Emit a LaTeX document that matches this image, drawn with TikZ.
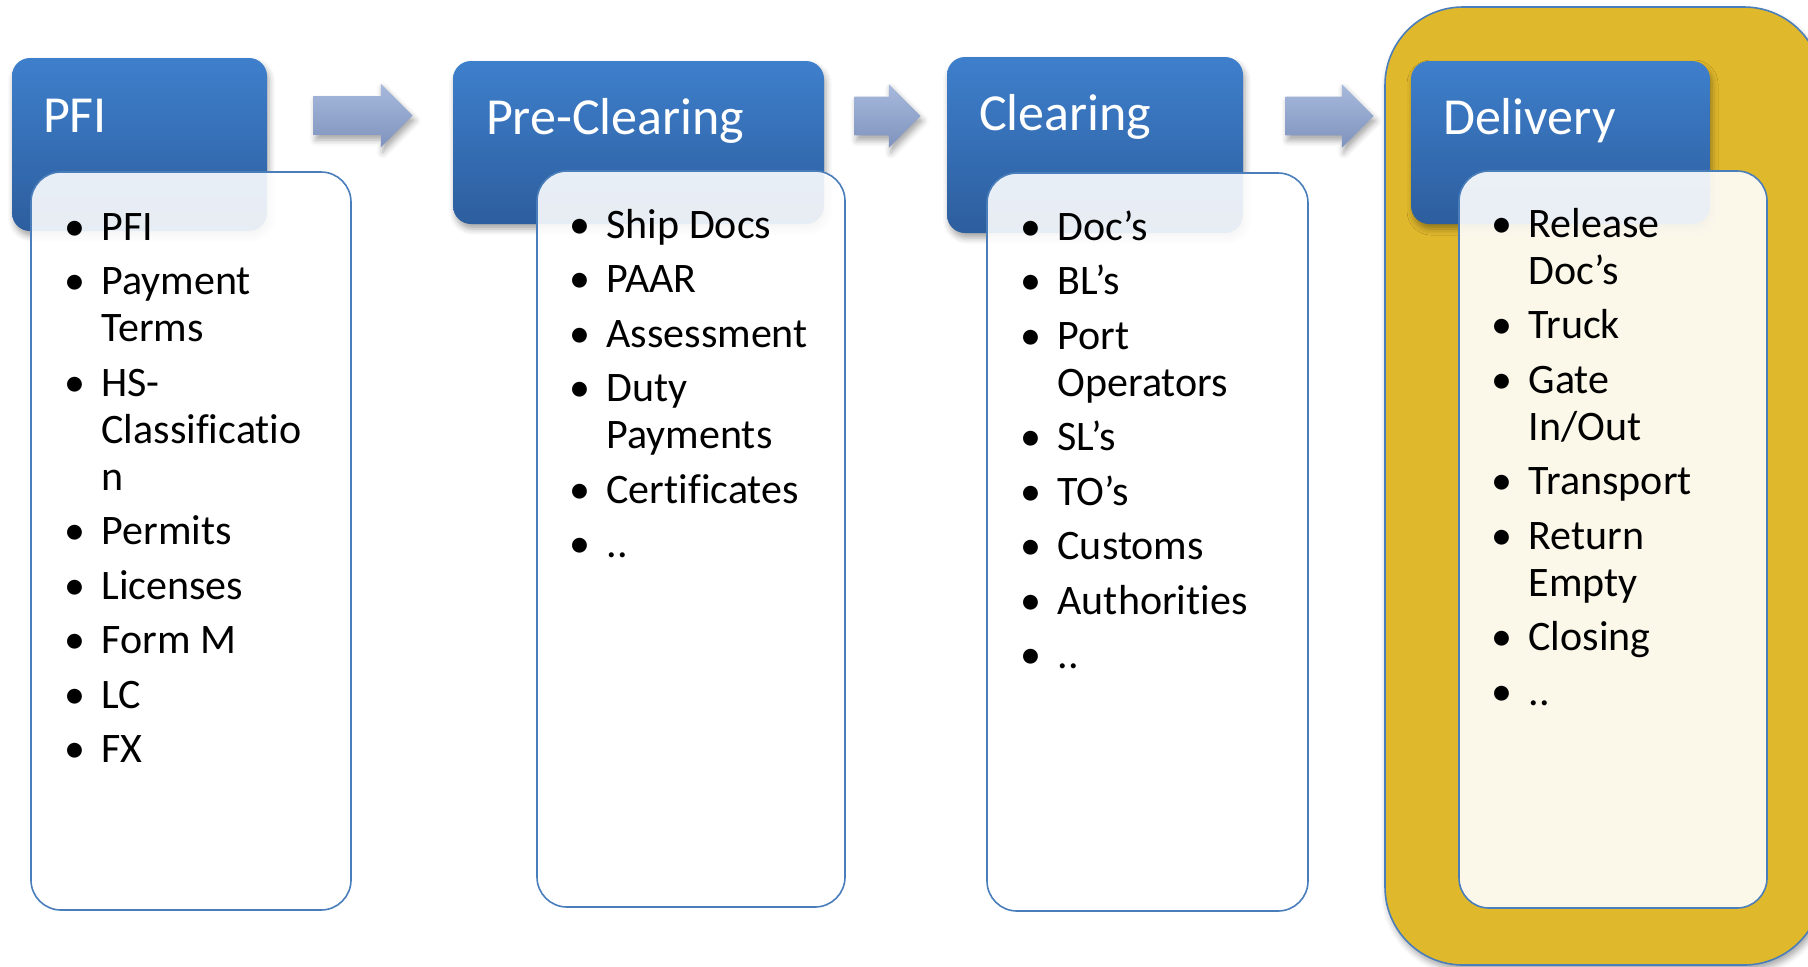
\documentclass[tikz,border=0pt]{standalone}
\usepackage{fontspec}
\setmainfont{Carlito}[Ligatures={TeX,NoCommon}]
\usetikzlibrary{shapes.arrows,shadows.blur,fit,calc}

\definecolor{headtop}{RGB}{62,127,204}
\definecolor{headbot}{RGB}{45,94,158}
\definecolor{listline}{RGB}{74,126,187}
\definecolor{arrowtop}{RGB}{167,185,220}
\definecolor{arrowbot}{RGB}{127,147,189}
\definecolor{zonegold}{RGB}{224,184,44}

% bullet cell of the item lists
\newcommand{\itembul}{\makebox[27pt]{\textbullet}}

\tikzset{
  softshadow/.style={blur shadow={shadow xshift=1pt, shadow yshift=-2.5pt, shadow blur radius=3pt, shadow opacity=35}},
  headbox/.style={inner sep=0pt, rounded corners=9pt, top color=headtop, bottom color=headbot, softshadow},
  headtext/.style={text=white, font=\fontsize{26}{30}\selectfont, inner sep=0pt, anchor=base west},
  listbox/.style={inner sep=0pt, rounded corners=15pt, draw=listline, line width=0.8pt, fill=white, fill opacity=0.89},
  listtext/.style={font=\fontsize{21}{23.5}\selectfont, inner sep=0pt, anchor=base west},
  flowarrow/.style={single arrow, inner sep=0pt, text height=9.5pt, text depth=9.5pt, single arrow head extend=6.25pt, top color=arrowtop, bottom color=arrowbot, softshadow},
  zonebox/.style={inner sep=0pt, rounded corners=39pt, draw=listline, line width=0.8pt, fill=zonegold, softshadow}
}

\begin{document}
\begin{tikzpicture}[x=0.5pt, y=-0.5pt]
  \useasboundingbox (0,0) rectangle (1808,966);

  % highlighted last stage
  \node[zonebox, fit={(1385,7) (1822,965)}] (delzone) {};

  % stage headers
  \node[headbox, fit={(12,58) (267,231)}] (pfihead) {};
  \node[headbox, fit={(453,61) (824,224)}] (prehead) {};
  \node[headbox, fit={(947,57) (1243,233)}] (clrhead) {};
  \node[headbox, fit={(1411,61) (1710,224)}] (delhead) {};

  \node[headtext] (pfititle) at ($(pfihead.north west)+(31,75)$) {PFI};
  \node[headtext] (pretitle) at ($(prehead.north west)+(33,74)$) {Pre-Clearing};
  \node[headtext] (clrtitle) at ($(clrhead.north west)+(32,74)$) {Clearing};
  \node[headtext] (deltitle) at ($(delhead.north west)+(32,74)$) {Delivery};

  % item boxes
  \node[listbox, fit={(31,172) (351,910)}] (pfilist) {};
  \node[listbox, fit={(537,171) (845,907)}] (prelist) {};
  \node[listbox, fit={(987,173) (1308,911)}] (clrlist) {};
  \node[listbox, fill opacity=0.9, fit={(1459,171) (1767,908)}] (dellist) {};

  % arrows between stages
  \node[flowarrow, minimum height=49.5pt] (arrowa) at (353.5,115.5) {};
  \node[flowarrow, minimum height=33pt] (arrowb) at (878,116) {};
  \node[flowarrow, minimum height=44pt] (arrowc) at (1320,116) {};

  % item texts
  \node[listtext] (pfiitems) at ($(pfilist.north west)+(17,69)$) {%
    \begin{tabular}[t]{@{}l@{}l@{}}
      \itembul & PFI\\[3.75pt]
      \itembul & Payment\\
               & Terms\\[3.75pt]
      \itembul & HS-\\
               & Classificatio\\
               & n\\[3.75pt]
      \itembul & Permits\\[3.75pt]
      \itembul & Licenses\\[3.75pt]
      \itembul & Form M\\[3.75pt]
      \itembul & LC\\[3.75pt]
      \itembul & FX
    \end{tabular}};
  \node[listtext] (preitems) at ($(prelist.north west)+(16,68)$) {%
    \begin{tabular}[t]{@{}l@{}l@{}}
      \itembul & Ship Docs\\[3.75pt]
      \itembul & PAAR\\[3.75pt]
      \itembul & Assessment\\[3.75pt]
      \itembul & Duty\\
               & Payments\\[3.75pt]
      \itembul & Certificates\\[3.75pt]
      \itembul & ..
    \end{tabular}};
  \node[listtext] (clritems) at ($(clrlist.north west)+(17,68)$) {%
    \begin{tabular}[t]{@{}l@{}l@{}}
      \itembul & Doc’s\\[3.75pt]
      \itembul & BL’s\\[3.75pt]
      \itembul & Port\\
               & Operators\\[3.75pt]
      \itembul & SL’s\\[3.75pt]
      \itembul & TO’s\\[3.75pt]
      \itembul & Customs\\[3.75pt]
      \itembul & Authorities\\[3.75pt]
      \itembul & ..
    \end{tabular}};
  \node[listtext] (delitems) at ($(dellist.north west)+(16,67)$) {%
    \begin{tabular}[t]{@{}l@{}l@{}}
      \itembul & Release\\
               & Doc’s\\[3.75pt]
      \itembul & Truck\\[3.75pt]
      \itembul & Gate\\
               & In/Out\\[3.75pt]
      \itembul & Transport\\[3.75pt]
      \itembul & Return\\
               & Empty\\[3.75pt]
      \itembul & Closing\\[3.75pt]
      \itembul & ..
    \end{tabular}};
\end{tikzpicture}
\end{document}
